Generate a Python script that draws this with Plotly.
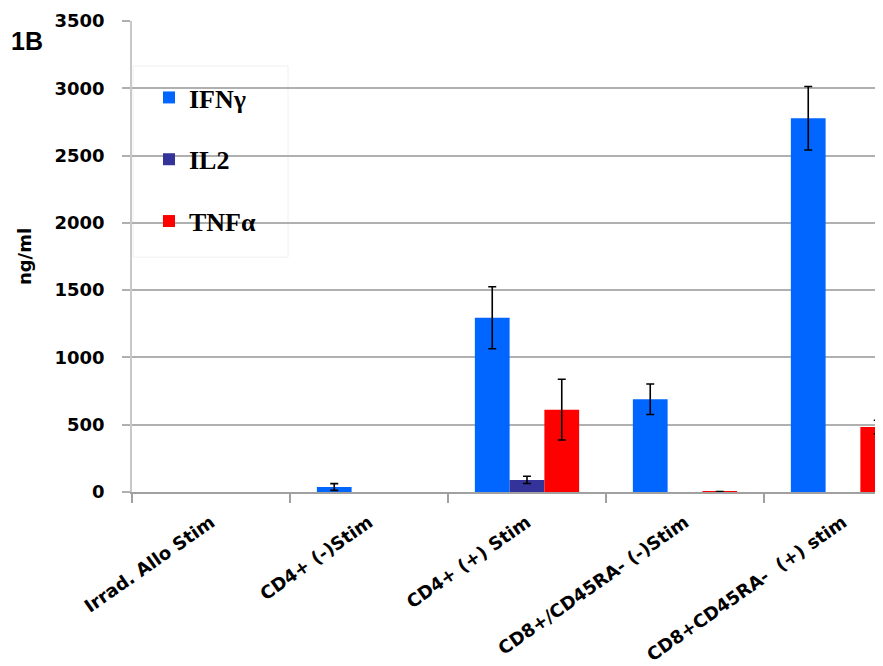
import plotly.graph_objects as go

categories = ["Irrad. Allo Stim", "CD4+ (-)Stim", "CD4+ (+) Stim",
              "CD8+/CD45RA- (-)Stim", "CD8+CD45RA-  (+) stim"]
series_names = ["IFNγ", "IL2", "TNFα"]
ifn_values = [0, 37, 1295, 689, 2777]
ifn_errors = [None, 25, 230, 113, 236]
il2_values = [0, 0, 90, 0, 0]
il2_errors = [None, None, 27, None, None]
tnf_values = [0, 0, 612, 2, 483]
tnf_errors = [None, None, 226, 2, 50]
colors = ["#0066FF", "#333399", "#FF0000"]
y_ticks = [0, 500, 1000, 1500, 2000, 2500, 3000, 3500]

# page offset of the figure inside the html body (default 8px body margin)
OFF = 8
W, H = 875, 658
ML, MR, MT = 132 - OFF, 0, 21 - OFF
MB = H - (491.7 - OFF)
plot_w = W - ML - MR
plot_h = H - MT - MB
cat_px = 158.0

def px_x(page_x):
    return (page_x - OFF - ML) / plot_w

def px_y(page_y):
    return (H - MB - (page_y - OFF)) / plot_h

fig = go.Figure()
for name, vals, errs, col in zip(series_names,
                                 [ifn_values, il2_values, tnf_values],
                                 [ifn_errors, il2_errors, tnf_errors], colors):
    # bars with no visible mark and no error bar are left empty
    yv = [None if (e is None and v == 0) else v for v, e in zip(vals, errs)]
    ev = [0 if e is None else e for e in errs]
    fig.add_trace(go.Bar(
        x=categories, y=yv, name=name, legendgroup=name,
        marker=dict(color=col, line=dict(width=0)),
        error_y=dict(type="data", array=ev, visible=True,
                     color="black", thickness=1.6, width=4),
    ))

fig.add_shape(type="rect", xref="paper", yref="paper",
              x0=px_x(133), x1=px_x(288), y0=px_y(257), y1=px_y(66),
              fillcolor="white", line=dict(color="#f0f0f0", width=1),
              layer="between")

fig.add_annotation(text="<b>1B</b>", xref="paper", yref="paper",
                   x=px_x(9), y=px_y(25), xanchor="left", yanchor="top",
                   showarrow=False,
                   font=dict(family="Liberation Sans", size=25, color="black"))

fig.update_layout(
    width=W, height=H,
    margin=dict(l=ML, r=MR, t=MT, b=MB, pad=0),
    paper_bgcolor="white", plot_bgcolor="white",
    barmode="group", bargap=0.34, bargroupgap=0,
    showlegend=True,
    legend=dict(x=px_x(149), y=px_y(74), xanchor="left", yanchor="top",
                bgcolor="rgba(0,0,0,0)", borderwidth=0,
                traceorder="grouped", tracegroupgap=25,
                font=dict(family="Liberation Serif", size=26, color="black",
                          weight="bold")),
    font=dict(family="DejaVu Sans", color="black"),
)

fig.update_xaxes(
    range=[-0.5, -0.5 + plot_w / cat_px],
    tickangle=-35, tickson="boundaries",
    ticks="outside", ticklen=9, tickcolor="#a0a0a0", tickwidth=1.5,
    showline=True, linecolor="#a0a0a0", linewidth=2,
    showgrid=False,
    tickfont=dict(family="DejaVu Sans", size=18, color="black", weight="bold"),
    ticklabelstandoff=11,
)

fig.update_yaxes(
    range=[0, 3500], tickvals=y_ticks,
    ticks="outside", ticklen=8, tickcolor="#b0b0b0", tickwidth=1.5,
    showline=True, linecolor="#c8c8c8", linewidth=1.5,
    showgrid=True, gridcolor="#b0b0b0", gridwidth=1.5,
    zeroline=False,
    tickfont=dict(family="DejaVu Sans", size=18, color="black", weight="bold"),
    ticklabelstandoff=14,
    title=dict(text="<b>ng/ml</b>", standoff=18,
               font=dict(family="DejaVu Sans", size=18, color="black")),
)

fig.write_html("out.html")
